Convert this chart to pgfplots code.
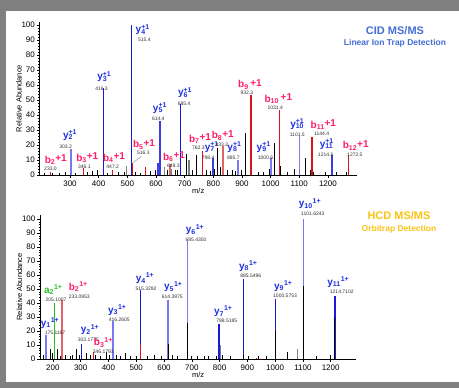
\documentclass[border=0pt]{standalone}
\usepackage{fontspec}
\setmainfont{Liberation Sans}
\setsansfont{Liberation Sans}
\usepackage{pgfplots}
\pgfplotsset{compat=1.18}
\definecolor{bgray}{RGB}{128,128,128}
\definecolor{ylab}{RGB}{30,50,225}
\definecolor{blab}{RGB}{255,30,100}
\definecolor{ydark}{RGB}{25,25,215}
\definecolor{ymid}{RGB}{60,60,230}
\definecolor{ylight}{RGB}{120,120,240}
\definecolor{bred}{RGB}{215,20,30}
\definecolor{bsalmon}{RGB}{225,100,100}
\definecolor{cidblue}{RGB}{70,110,215}
\definecolor{hcdgold}{RGB}{250,195,20}
\definecolor{agreen}{RGB}{40,190,40}
\definecolor{vgray}{RGB}{50,50,50}
\newcommand{\vt}[1]{{\fontsize{5}{5}\selectfont\color{vgray}#1}}
\newcommand{\yt}[2]{{\fontsize{10}{10}\selectfont\bfseries\color{ylab}y\rlap{\textsubscript{#1}}\textsuperscript{#2}}}
\newcommand{\bt}[2]{{\fontsize{10}{10}\selectfont\bfseries\color{blab}b\textsubscript{#1}\raisebox{1.5pt}{#2}}}
\newcommand{\yb}[1]{{\fontsize{10}{10}\selectfont\bfseries\color{ylab}y\textsubscript{#1}\textsuperscript{1+}}}
\newcommand{\bb}[1]{{\fontsize{10}{10}\selectfont\bfseries\color{blab}b\textsubscript{#1}\textsuperscript{1+}}}
\pgfplotsset{
  msaxis/.style={
    scale only axis, clip=false,
    axis x line*=bottom, axis y line*=left,
    axis line style={-, line width=0.8pt},
    tick align=outside,
    major tick length=3pt, minor tick length=1.5pt,
    tick style={black, line width=0.5pt},
    minor x tick num=4, minor y tick num=4,
    ytick={0,10,...,100},
    ticklabel style={font=\fontsize{8}{8}\selectfont},
    /pgf/number format/assume math mode=true,
    xticklabel style={yshift=1pt},
    yticklabel style={xshift=1.5pt},
    xlabel={m/z}, ylabel={Relative Abundance},
    label style={font=\fontsize{7.5}{7.5}\selectfont},
    xlabel style={yshift=5pt},
    ylabel style={yshift=-7pt},
    /pgf/number format/set thousands separator={},
  },
  bar/.style={ycomb, no marks, line width=1.5pt},
  noise/.style={ycomb, no marks, line width=1pt, black},
}
\begin{document}
\begin{tikzpicture}
\fill[bgray] (0pt,0pt) rectangle (459pt,388pt);
\fill[white] (6pt,6pt) rectangle (459pt,377pt);
\useasboundingbox (0pt,0pt) rectangle (459pt,388pt);

% ---------------- CID panel ----------------
\begin{axis}[msaxis, at={(39.9pt,213pt)}, anchor=south west,
  width=316.7pt, height=153pt,
  xmin=195, xmax=1300, ymin=0, ymax=102,
  xtick={300,400,...,1200}]
\addplot[noise] coordinates {(210,1) (240,1.5) (262,1) (285,2) (320,1.5) (360,2) (378,2.5) (395,3) (430,1.5) (470,2) (490,2) (530,2) (545,1.5) (580,2.5) (598,3) (640,3) (668,3) (675,3.5) (705,14) (728,3) (742,13) (775,3) (790,2.5) (803,4) (815,18) (826,5) (848,3) (866,3) (878,2.5) (898,3) (912,28) (929,7) (958,2) (975,2) (995,4) (1013,21) (1033,6) (1060,2) (1085,4) (1120,11) (1138,3) (1150,2) (1190,2) (1230,2) (1265,2)};
\addplot[ycomb, no marks, line width=1.2pt, gray] coordinates {(498,6) (715,10) (630,5) (655,4)};
\addplot[ycomb, no marks, line width=1.2pt, bred] coordinates {(564,5) (233.0,2) (346.1,4.5) (447.2,3) (516.3,8)};
\addplot[ycomb, no marks, line width=1.2pt, ymid] coordinates {(607,8)};
\addplot[bar, ydark] coordinates {(416.3,58) (515.4,100) (685.4,47)};
\addplot[bar, ymid] coordinates {(614.4,36) (798.4,11) (1214.6,13)};
\addplot[bar, ylight] coordinates {(303.2,17.5) (885.7,10) (1000.6,11) (1101.5,26)};
\addplot[bar, bred] coordinates {(762.3,16) (932.3,53) (1031.4,43) (1144.4,25) (1272.5,13)};
\addplot[bar, bsalmon] coordinates {(649.3,7) (833.2,19)};
% labels
\begin{scope}[every node/.style={inner sep=0pt}]
\node at (axis cs:553.8,97) {\yt{4}{+1}};
\node at (axis cs:559.4,90) {\vt{515.4}};
\node at (axis cs:419.8,65.5) {\yt{3}{+1}};
\node at (axis cs:410,57.8) {\vt{416.3}};
\node at (axis cs:300.1,26.5) {\yt{2}{+1}};
\node at (axis cs:285,18.8) {\vt{303.2}};
\node at (axis cs:614.1,44.5) {\yt{5}{+1}};
\node at (axis cs:608,37.2) {\vt{614.4}};
\node at (axis cs:701.4,55) {\yt{6}{+1}};
\node at (axis cs:698,47.6) {\vt{685.4}};
\node at (axis cs:795,18.5) {\yt{7}{+1}};
\node at (axis cs:782,11.3) {\vt{798.4}};
\node at (axis cs:874,18.7) {\yt{8}{+1}};
\node at (axis cs:870,11.5) {\vt{885.7}};
\node at (axis cs:976,18.7) {\yt{9}{+1}};
\node at (axis cs:982,11.5) {\vt{1000.6}};
\node at (axis cs:1093,33.8) {\yt{10}{+1}};
\node at (axis cs:1093,26.5) {\vt{1101.5}};
\node at (axis cs:1196,20.5) {\yt{11}{+1}};
\node at (axis cs:1192,13.3) {\vt{1214.6}};
\node at (axis cs:250.3,10) {\bt{2}{+1}};
\node at (axis cs:232,4.3) {\vt{233.0}};
\node at (axis cs:360.5,11.5) {\bt{3}{+1}};
\node at (axis cs:350,5.6) {\vt{346.1}};
\node at (axis cs:453.6,11.5) {\bt{4}{+1}};
\node at (axis cs:449,5.5) {\vt{447.2}};
\node at (axis cs:558.3,20.5) {\bt{5}{+1}};
\node at (axis cs:556,14.5) {\vt{516.3}};
\node at (axis cs:663,12.2) {\bt{6}{+1}};
\node at (axis cs:660.6,6.2) {\vt{649.3}};
\node at (axis cs:753.7,24.2) {\bt{7}{+1}};
\node at (axis cs:748,18.2) {\vt{762.3}};
\node at (axis cs:833,26.4) {\bt{8}{+1}};
\node at (axis cs:830,20.4) {\vt{833.2}};
\node at (axis cs:928,60.5) {\bt{9}{\,+1}};
\node at (axis cs:917,54.5) {\vt{932.3}};
\node at (axis cs:1027,50.8) {\bt{10}{\,+1}};
\node at (axis cs:1016,44.8) {\vt{1031.4}};
\node at (axis cs:1184,33.3) {\bt{11}{+1}};
\node at (axis cs:1178,27.3) {\vt{1144.4}};
\node at (axis cs:1297,19.8) {\bt{12}{+1}};
\node at (axis cs:1294,13.8) {\vt{1272.5}};
\end{scope}
\draw[gray, line width=0.4pt] (axis cs:548,12.3) -- (axis cs:521,8.3);
\end{axis}

% ---------------- HCD panel ----------------
\begin{axis}[msaxis, at={(40.4pt,29pt)}, anchor=south west,
  width=315.3pt, height=144.2pt,
  xmin=155, xmax=1290, ymin=0, ymax=103,
  xtick={200,300,...,1200}]
\addplot[bar, ylight] coordinates {(175.1,17) (416.3,27) (614.4,42) (685.4,84) (1101.6,100)};
\addplot[bar, ydark] coordinates {(303.2,11) (515.3,49) (798.5,25) (885.5,57) (1000.6,43) (1214.7,45)};
\addplot[bar, agreen] coordinates {(205.1,40)};
\addplot[bar, bsalmon] coordinates {(233.1,42)};
\addplot[ycomb, no marks, line width=1.5pt, bred] coordinates {(346.2,5) (515.3,11) (933,1)};
\addplot[ycomb, no marks, line width=1.2pt, gray] coordinates {(803,10) (1080,7)};
\addplot[noise] coordinates {(165,3) (190,7) (197,4) (215,7) (228,2) (245,3) (262,2) (270,3) (285,7) (295,3) (320,4) (335,3) (355,3) (372,2) (392,5) (405,3) (430,3) (445,2) (462,4) (480,2) (500,2) (540,2) (565,3) (590,2) (614.4,11) (630,3) (650,2) (685.4,26) (700,2) (720,2) (745,2) (760,2) (790,2) (810,3) (840,2) (885.5,3) (905,2) (940,2) (970,2) (1000.6,20) (1045,5) (1101.6,52) (1150,2) (1200,3) (1214.7,29)};
% labels
\begin{scope}[every node/.style={inner sep=0pt}]
\node at (axis cs:189.7,25.5) {\yb{1}};
\node at (axis cs:207.7,18.4) {\vt{175.1187}};
\node[color=agreen] at (axis cs:201.6,49.3) {\fontsize{10}{10}\selectfont\bfseries a\textsubscript{2}\textsuperscript{1+}};
\node at (axis cs:211.3,42.6) {\vt{205.1007}};
\node at (axis cs:291.6,51.6) {\bb{2}};
\node at (axis cs:295,44.5) {\vt{233.0953}};
\node at (axis cs:333.7,20.9) {\yb{2}};
\node at (axis cs:327.6,14) {\vt{303.1775}};
\node at (axis cs:382,11.8) {\bb{3}};
\node at (axis cs:381.6,5.3) {\vt{346.1793}};
\node at (axis cs:432,34.8) {\yb{3}};
\node at (axis cs:439.2,27.9) {\vt{416.2605}};
\node at (axis cs:531.7,57.6) {\yb{4}};
\node at (axis cs:535.3,50.5) {\vt{515.3292}};
\node at (axis cs:633.6,51.6) {\yb{5}};
\node at (axis cs:630,44.5) {\vt{614.3975}};
\node at (axis cs:711.7,92.4) {\yb{6}};
\node at (axis cs:715.3,85.5) {\vt{685.4350}};
\node at (axis cs:813.6,34) {\yb{7}};
\node at (axis cs:825.8,27.1) {\vt{798.5185}};
\node at (axis cs:903.6,66.4) {\yb{8}};
\node at (axis cs:912.2,59.5) {\vt{885.5496}};
\node at (axis cs:1029.6,52.1) {\yb{9}};
\node at (axis cs:1035.6,45.2) {\vt{1000.5753}};
\node at (axis cs:1125.6,110.9) {\yb{10}};
\node at (axis cs:1135.4,104) {\vt{1101.6243}};
\node at (axis cs:1227.5,54.9) {\yb{11}};
\node at (axis cs:1239.8,48) {\vt{1214.7102}};
\end{scope}
\end{axis}

% titles
\node[font=\fontsize{11}{11}\selectfont\bfseries, color=cidblue] at (395pt,357.3pt) {CID MS/MS};
\node[font=\fontsize{8.5}{8.5}\selectfont\bfseries, color=cidblue] at (395pt,344.7pt) {Linear Ion Trap Detection};
\node[font=\fontsize{11}{11}\selectfont\bfseries, color=hcdgold] at (399pt,172.3pt) {HCD MS/MS};
\node[font=\fontsize{8.5}{8.5}\selectfont\bfseries, color=hcdgold] at (399pt,158.7pt) {Orbitrap Detection};
\end{tikzpicture}
\end{document}
